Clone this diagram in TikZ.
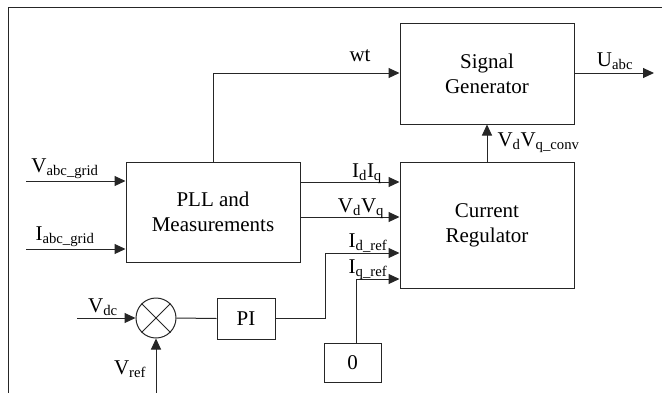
\documentclass[tikz,border=0pt]{standalone}
\usepackage{fontspec}
\setmainfont{Liberation Serif}
\usetikzlibrary{arrows.meta,calc}
\newcommand\sbs[1]{\textsubscript{#1}}
\begin{document}
\begin{tikzpicture}[x=1pt,y=-1pt,
  line width=1pt, draw=black!85,
  blk/.style={draw, rectangle, align=center, font=\fontsize{21}{25}\selectfont, inner sep=0pt},
  lbl/.style={font=\fontsize{21}{24}\selectfont, inner sep=0pt},
  arr/.style={-{Triangle[length=11pt,width=10pt]}}]
\useasboundingbox (0,0) rectangle (662,392);
% frame
\draw (8,400) -- (8,7) -- (670,7);
% blocks
\node[blk, minimum width=174pt, minimum height=100pt] (pll) at (213,212) {PLL and\\Measurements};
\node[blk, minimum width=174pt, minimum height=101pt] (sg) at (487,73.5) {Signal\\Generator};
\node[blk, minimum width=174pt, minimum height=126pt] (cr) at (487,225) {Current\\Regulator};
\node[blk, minimum width=58pt, minimum height=41pt] (pi) at (246,318.5) {PI};
\node[blk, minimum width=57pt, minimum height=39pt] (zero) at (352.5,362.5) {0};
\node[draw, circle, minimum size=40pt, inner sep=0pt] (sum) at (156,318) {};
\draw (sum.north west) -- (sum.south east) (sum.north east) -- (sum.south west);
% coordinates
\coordinate (vin) at (26,181);
\coordinate (iin) at (26,249);
\coordinate (vdcin) at (77,318);
\coordinate (vrefin) at (156,395);
\coordinate (uout) at (654,73);
\coordinate (wtc) at (213,73);
\coordinate (idc) at (325,253);
\coordinate (iqc) at (356,279);
% connectors
\draw[arr] (vin) -- (vin -| pll.west);
\draw[arr] (iin) -- (iin -| pll.west);
\draw[arr] (pll.north -| wtc) -- (wtc) -- (wtc -| sg.west);
\draw[arr] (sg.east |- uout) -- (uout);
\draw[arr] (cr.north) -- (sg.south);
\draw[arr] (pll.east |- 0,182) -- (cr.west |- 0,182);
\draw[arr] (pll.east |- 0,217) -- (cr.west |- 0,217);
\draw[arr] (pi.east) -- (pi.east -| idc) -- (idc) -- (idc -| cr.west);
\draw[arr] (zero.north -| iqc) -- (iqc) -- (iqc -| cr.west);
\draw (sum.east) -- (pi.west);
\draw[arr] (vdcin) -- (sum.west);
\draw[arr] (vrefin) -- (sum.south);
% labels
\node[lbl, anchor=base] (lv) at (65,172) {V\sbs{abc\_grid}};
\node[lbl, anchor=base] (li) at (65,240) {I\sbs{abc\_grid}};
\node[lbl, anchor=base] (lwt) at (360,61) {wt};
\node[lbl, anchor=base] (lu) at (615,66) {U\sbs{abc}};
\node[lbl, anchor=base west] (lvc) at (497,146) {V\sbs{d}V\sbs{q\_conv}};
\node[lbl, anchor=base] (lidq) at (367,177) {I\sbs{d}I\sbs{q}};
\node[lbl, anchor=base] (lvdq) at (361,212) {V\sbs{d}V\sbs{q}};
\node[lbl, anchor=base] (lidr) at (368,247) {I\sbs{d\_ref}};
\node[lbl, anchor=base] (liqr) at (368,273) {I\sbs{q\_ref}};
\node[lbl, anchor=base] (lvdc) at (103,312) {V\sbs{dc}};
\node[lbl, anchor=base] (lvref) at (130,374) {V\sbs{ref}};
\end{tikzpicture}
\end{document}
